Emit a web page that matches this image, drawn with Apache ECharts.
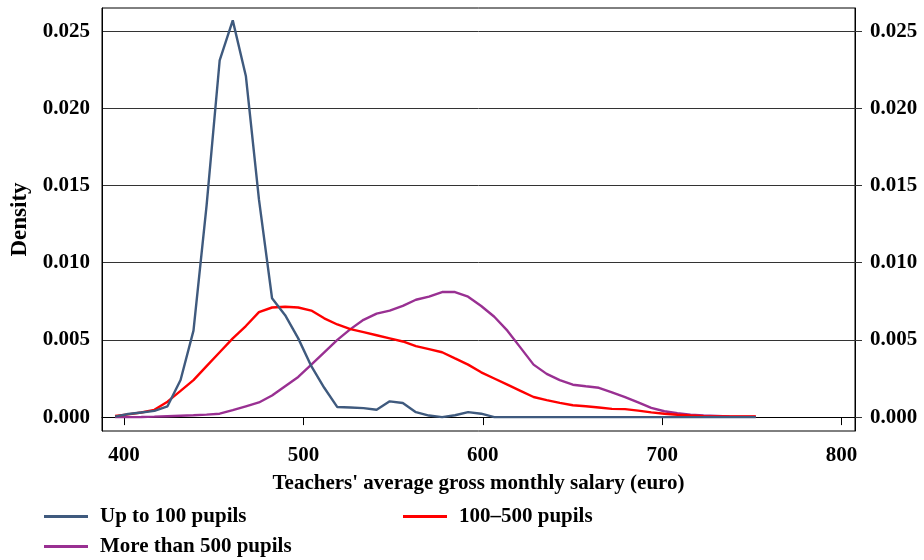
<!DOCTYPE html>
<html>
<head>
<meta charset="utf-8">
<script src="https://cdn.jsdelivr.net/npm/echarts@6/dist/echarts.min.js"></script>
<style>
  html, body { margin: 0; padding: 0; background: #fff; }
  #chart { width: 924px; height: 560px; }
</style>
</head>
<body>
<div id="chart"></div>
<script>
// salary grid where the densities were evaluated (euro)
const salary = [
  395.0, 402.3, 409.6, 416.9, 424.2, 431.5, 438.7, 446.0, 453.3, 460.6,
  467.9, 475.2, 482.5, 489.8, 497.1, 504.4, 511.6, 518.9, 526.2, 533.5,
  540.8, 548.1, 555.4, 562.7, 570.0, 577.3, 584.5, 591.8, 599.1, 606.4,
  613.7, 621.0, 628.3, 635.6, 642.9, 650.2, 657.4, 664.7, 672.0, 679.3,
  686.6, 693.9, 701.2, 708.5, 715.8, 723.1, 730.3, 737.6, 744.9, 752.2
]

const upTo100 = [
  0.00003, 0.0002, 0.0003, 0.0004, 0.0007, 0.0024, 0.0056, 0.0137, 0.0231, 0.0257,
  0.0221, 0.0141, 0.0077, 0.0066, 0.0051, 0.0033, 0.0019, 0.00065, 0.00062, 0.00058,
  0.00048, 0.00102, 0.00091, 0.00032, 0.0001, 0.0, 0.00012, 0.00032, 0.00022, 0.0,
  0, 0, 0, 0, 0, 0, 0, 0, 0, 0,
  0, 0, 0, 0, 0, 0, 0, 0, 0, 0
]

const from100to500 = [
  0.00007, 0.00018, 0.0003, 0.00047, 0.001, 0.0017, 0.0024, 0.0033, 0.0042, 0.0051,
  0.0059, 0.0068, 0.0071, 0.00715, 0.0071, 0.0069, 0.0064, 0.006, 0.0057, 0.0055,
  0.0053, 0.0051, 0.0049, 0.0046, 0.0044, 0.0042, 0.0038, 0.0034, 0.0029, 0.0025,
  0.0021, 0.0017, 0.0013, 0.0011, 0.00092, 0.00077, 0.0007, 0.00062, 0.00053, 0.00052,
  0.00042, 0.00031, 0.00022, 0.00015, 0.0001, 0.00006, 0.00005, 0.00004, 0.00004, 0.00004
]

const over500 = [
  0.0, 0.0, 0.00001, 0.00003, 0.00006, 0.00009, 0.00012, 0.00016, 0.00022, 0.00045,
  0.0007, 0.00095, 0.0014, 0.002, 0.0026, 0.0034, 0.0042, 0.005, 0.0057, 0.0063,
  0.0067, 0.0069, 0.0072, 0.0076, 0.0078, 0.0081, 0.0081, 0.0078, 0.0072, 0.0065,
  0.0056, 0.0045, 0.0034, 0.0028, 0.0024, 0.0021, 0.002, 0.0019, 0.0016, 0.0013,
  0.00095, 0.0006, 0.00038, 0.00025, 0.00016, 0.0001, 0.00007, 0.00004, 0.00003, 0.00002
]

const xTicks = [400, 500, 600, 700, 800]
const yTicks = [0, 0.005, 0.01, 0.015, 0.02, 0.025]

const seriesNames = ['Up to 100 pupils', '100–500 pupils', 'More than 500 pupils']
const colors = ['#3f5a7e', '#ff0000', '#993092']

const font = 'Liberation Serif'

const chart = echarts.init(document.getElementById('chart'), null, { renderer: 'canvas' })

const pairs = arr => salary.map((x, i) => [x, arr[i]])

const legendAt = (name, left, top) => ({
  data: [name],
  left: left,
  top: top,
  padding: 0,
  icon: 'rect',
  itemWidth: 44,
  itemHeight: 3,
  selectedMode: false,
  textStyle: {
    fontFamily: font,
    fontSize: 21,
    fontWeight: 'bold',
    color: '#000',
    padding: [0, 0, 0, 7]
  }
})

const yAxisBase = {
  type: 'value',
  min: -0.0009,
  max: 0.0265,
  axisLine: { show: true, lineStyle: { color: '#000', width: 1 } },
  axisLabel: {
    customValues: yTicks,
    formatter: v => v.toFixed(3),
    fontFamily: font,
    fontSize: 21,
    fontWeight: 'bold',
    color: '#000'
  }
}

chart.setOption({
  animation: false,
  color: colors,
  grid: {
    left: 102,
    right: 69,
    top: 8,
    bottom: 129,
    show: true,
    borderColor: '#000',
    borderWidth: 1,
    containLabel: false,
    outerBoundsMode: 'none'
  },
  legend: [
    legendAt(seriesNames[0], 44, 506),
    legendAt(seriesNames[1], 403, 506),
    legendAt(seriesNames[2], 44, 536)
  ],
  xAxis: {
    type: 'value',
    min: 387.7,
    max: 807.5,
    name: "Teachers' average gross monthly salary (euro)",
    nameLocation: 'middle',
    nameGap: 42,
    nameTextStyle: { fontFamily: font, fontSize: 21, fontWeight: 'bold', color: '#000' },
    axisLine: { show: true, lineStyle: { color: '#000', width: 1 } },
    axisTick: { show: true, customValues: xTicks, length: 8, lineStyle: { color: '#000' } },
    axisLabel: {
      customValues: xTicks,
      margin: 14,
      fontFamily: font,
      fontSize: 21,
      fontWeight: 'bold',
      color: '#000'
    },
    splitLine: { show: false }
  },
  yAxis: [
    Object.assign({}, yAxisBase, {
      position: 'left',
      name: 'Density',
      nameLocation: 'middle',
      nameGap: 69,
      nameTextStyle: { fontFamily: font, fontSize: 23, fontWeight: 'bold', color: '#000' },
      axisTick: { show: false, customValues: yTicks },
      axisLabel: Object.assign({}, yAxisBase.axisLabel, { margin: 12 }),
      splitLine: { show: true, lineStyle: { color: '#333', width: 1 } }
    }),
    Object.assign({}, yAxisBase, {
      position: 'right',
      axisTick: { show: true, customValues: yTicks, length: 7, lineStyle: { color: '#333' } },
      axisLabel: Object.assign({}, yAxisBase.axisLabel, { margin: 15 }),
      splitLine: { show: false }
    })
  ],
  series: [upTo100, from100to500, over500].map((arr, i) => ({
    name: seriesNames[i],
    type: 'line',
    data: pairs(arr),
    showSymbol: false,
    symbol: 'none',
    lineStyle: { width: 2.4, color: colors[i] },
    itemStyle: { color: colors[i] },
    z: 3 - i
  }))
})
</script>
</body>
</html>
